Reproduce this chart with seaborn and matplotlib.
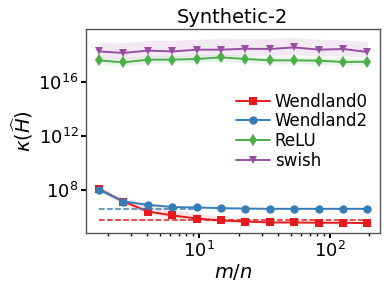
import numpy as np
import pandas as pd
import seaborn as sns
import matplotlib.pyplot as plt

# m/n values
ratio = [1.73, 2.64, 4.08, 6.25, 9.6, 14.7, 22.6, 34.7, 53, 82, 126, 193]

# log10 of kappa(H-hat) per activation
wendland0 = [8.05, 7.13, 6.39, 6.10, 5.87, 5.73, 5.65, 5.58, 5.58, 5.56, 5.56, 5.53]
wendland2 = [8.00, 7.13, 6.89, 6.72, 6.69, 6.64, 6.61, 6.59, 6.59, 6.59, 6.59, 6.59]
relu = [17.58, 17.43, 17.63, 17.63, 17.68, 17.80, 17.68, 17.58, 17.58, 17.56, 17.46, 17.48]
swish = [18.24, 18.13, 18.30, 18.24, 18.37, 18.37, 18.44, 18.42, 18.54, 18.37, 18.42, 18.20]

# shaded spread (log10)
wendland0_lo = [7.85, 6.95, 6.20, 5.92, 5.72, 5.62, 5.58, 5.52, 5.52, 5.50, 5.50, 5.48]
wendland0_hi = [8.25, 7.40, 6.90, 6.55, 6.25, 6.00, 5.80, 5.68, 5.66, 5.62, 5.62, 5.60]
wendland2_lo = [7.90, 7.02, 6.80, 6.66, 6.64, 6.60, 6.57, 6.55, 6.55, 6.55, 6.55, 6.55]
wendland2_hi = [8.10, 7.25, 6.98, 6.78, 6.74, 6.68, 6.65, 6.63, 6.63, 6.63, 6.63, 6.63]
relu_lo = [17.30, 17.15, 17.35, 17.38, 17.42, 17.50, 17.40, 17.32, 17.32, 17.30, 17.22, 17.22]
relu_hi = [17.85, 17.75, 17.90, 17.90, 17.95, 18.05, 17.95, 17.85, 17.85, 17.82, 17.75, 17.75]
swish_lo = [17.80, 17.70, 17.85, 17.80, 17.90, 17.92, 17.95, 17.95, 18.00, 17.90, 17.92, 17.80]
swish_hi = [18.96, 18.90, 19.05, 19.05, 19.15, 19.20, 19.20, 19.20, 19.25, 19.15, 19.10, 18.96]

# dashed reference levels (log10)
bound_wendland0 = 5.78
bound_wendland2 = 6.61
bound2_span = [1.73, 9.6]

labels = ["Wendland0", "Wendland2", "ReLU", "swish"]
colors = ["#e41a1c", "#377eb8", "#4daf4a", "#984ea3"]
markers = ["s", "o", "d", "v"]

sns.set_style("white", {"text.color": "black", "axes.labelcolor": "black",
                        "xtick.color": "black", "ytick.color": "black"})
fig = plt.figure(figsize=(3.9, 2.93), dpi=100)
ax = fig.add_axes([0.2205, 0.2048, 0.7535, 0.6962])

series = [(wendland0, wendland0_lo, wendland0_hi),
          (wendland2, wendland2_lo, wendland2_hi),
          (relu, relu_lo, relu_hi),
          (swish, swish_lo, swish_hi)]

x = np.array(ratio)
for (vals, lo, hi), lab, col, mk in zip(series, labels, colors, markers):
    ax.fill_between(x, 10 ** np.array(lo), 10 ** np.array(hi), color=col, alpha=0.12, lw=0)
    df = pd.DataFrame({"m/n": x, "kappa": 10 ** np.array(vals)})
    sns.lineplot(data=df, x="m/n", y="kappa", color=col, marker=mk, markersize=6,
                 markeredgewidth=0, linewidth=1.4, label=lab, ax=ax)

ax.plot([ratio[0], ratio[-1]], [10 ** bound_wendland0] * 2, ls="--", color=colors[0], lw=1.1)
ax.plot(bound2_span, [10 ** bound_wendland2] * 2, ls="--", color=colors[1], lw=1.1)

ax.set_xscale("log")
ax.set_yscale("log")
ax.set_xlim(1.37, 240)
ax.set_ylim(10 ** 4.8, 10 ** 19.9)
ax.set_yticks([1e8, 1e12, 1e16])
ax.yaxis.set_minor_locator(plt.NullLocator())

for s in ax.spines.values():
    s.set_color("#555555")
    s.set_linewidth(1.0)
ax.tick_params(which="major", direction="out", length=3.5, width=1.5, color="black",
               labelsize=13, pad=2, bottom=True, left=True)
ax.tick_params(which="minor", direction="out", length=2.5, width=1.0, color="black", bottom=True)

ax.set_title("Synthetic-2", fontsize=14, pad=4, color="black")
ax.set_xlabel("$m/n$", fontsize=14, labelpad=1)
ax.set_ylabel(r"$\kappa(\widehat{H})$", fontsize=14, labelpad=2)

ax.legend(loc="center right", bbox_to_anchor=(1.01, 0.50), frameon=False, fontsize=12,
          labelspacing=0.1, handlelength=2.0, handletextpad=0.3)

fig.savefig("out.png", dpi=100)
